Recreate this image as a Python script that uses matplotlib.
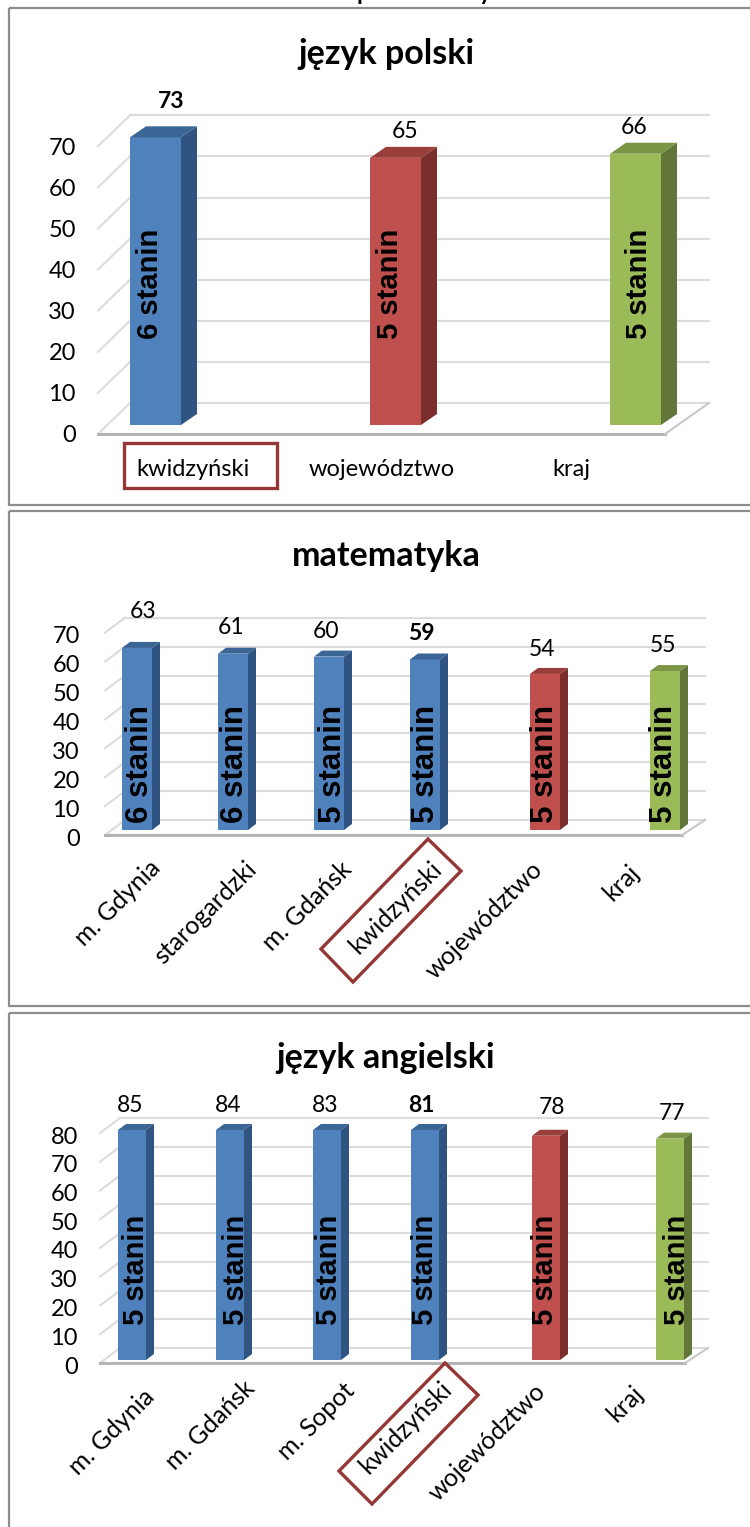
import numpy as np
import matplotlib
matplotlib.use("Agg")
import matplotlib.pyplot as plt
from matplotlib.patches import Polygon, Rectangle

plt.rcParams['font.family'] = ['Lato', 'DejaVu Sans']

# chart values
titles = ["język polski", "matematyka", "język angielski"]

cats1 = ["kwidzyński", "województwo", "kraj"]
vals1 = [73, 65, 66]
stanin1 = ["6 stanin", "5 stanin", "5 stanin"]

cats2 = ["m. Gdynia", "starogardzki", "m. Gdańsk", "kwidzyński", "województwo", "kraj"]
vals2 = [63, 61, 60, 59, 54, 55]
stanin2 = ["6 stanin", "6 stanin", "5 stanin", "5 stanin", "5 stanin", "5 stanin"]

cats3 = ["m. Gdynia", "m. Gdańsk", "m. Sopot", "kwidzyński", "województwo", "kraj"]
vals3 = [85, 84, 83, 81, 78, 77]
stanin3 = ["5 stanin", "5 stanin", "5 stanin", "5 stanin", "5 stanin", "5 stanin"]

# colours: front, side, top
BLUE = ("#4F81BD", "#2F5482", "#3A6595")
RED = ("#C0504D", "#7A2F2D", "#9A3E3B")
GREEN = ("#9BBB59", "#62763A", "#7C9646")

# layout in pixels for each panel
panels = [
    dict(title=titles[0], title_y=54, cats=cats1, vals=vals1, stanin=stanin1, ymax=70,
         base=425, scale=4.11, bar_x=[155.5, 395.5, 635.5], bar_w=51, dx=16, dy=11,
         front=(98, 665, 434), back=(130, 709, 403), tick_x=76, tick_off=11,
         colors=[BLUE, RED, GREEN], bold=0,
         val_xy=[(171, 102), (405, 132), (634, 127)],
         st_xy=[(150, 284), (390, 284), (639, 284)], st_size=21,
         cat_xy=[(193, 470), (382, 470), (571, 470)], cat_rot=0, cat_size=17),
    dict(title=titles[1], title_y=556, cats=cats2, vals=vals2, stanin=stanin2, ymax=70,
         base=830, scale=2.89, bar_x=[137, 233, 329, 425, 545, 665], bar_w=30, dx=8, dy=6,
         front=(105, 682, 835), back=(125, 705, 820), tick_x=80, tick_off=9,
         colors=[BLUE] * 4 + [RED, GREEN], bold=3,
         val_xy=[(143, 612), (231, 628), (326, 632), (421, 633), (542, 649), (663, 646)],
         st_xy=[(140, 764), (235, 764), (333, 764), (426, 764), (545, 764), (664, 764)], st_size=22.5,
         cat_xy=[(118, 903), (205, 913), (307, 906), (395, 908), (484, 920), (621, 883)], cat_rot=45, cat_size=18),
    dict(title=titles[2], title_y=1058, cats=cats3, vals=vals3, stanin=stanin3, ymax=80,
         base=1360, scale=2.875, bar_x=[132, 230, 327, 425, 546, 670], bar_w=28, dx=8, dy=6,
         front=(100, 685, 1363), back=(120, 708, 1348), tick_x=78, tick_off=7,
         colors=[BLUE] * 4 + [RED, GREEN], bold=3,
         val_xy=[(130, 1105), (228, 1105), (325, 1105), (421, 1105), (552, 1108), (672, 1114)],
         st_xy=[(136, 1270), (236, 1270), (329, 1270), (425, 1270), (545, 1270), (677, 1270)], st_size=21,
         cat_xy=[(112, 1432), (210, 1425), (316, 1421), (405, 1428), (487, 1442), (625, 1404)], cat_rot=45, cat_size=18),
]

W, H = 750, 1527
fig = plt.figure(figsize=(W / 100, H / 100), dpi=100, facecolor="white")

# pixel overlay for frames, text and the red boxes
pg = fig.add_axes([0, 0, 1, 1], zorder=5)
pg.set_xlim(0, W)
pg.set_ylim(H, 0)
pg.axis("off")
pg.patch.set_alpha(0)

# line of text above the charts, cut off by the top edge of the page
pg.text(357, 0.5, "podstawowy", ha="left", va="baseline", fontsize=17, fontweight="bold", color="black", clip_on=False)

# frames
for y0, y1 in [(8, 505), (511, 1006), (1013, 1560)]:
    pg.add_patch(Rectangle((9, y0), 800, y1 - y0, fill=False, ec="#8c8c8c", lw=1.6))

# red boxes round the kwidzyński labels
box_color = "#953735"
pg.add_patch(Rectangle((123.5, 442.5), 153, 45, fill=False, ec=box_color, lw=2.4))
pg.add_patch(Polygon([(428, 839), (461, 871), (353, 982), (321, 949)], fill=False, ec=box_color, lw=2.4))
pg.add_patch(Polygon([(445, 1363), (478, 1395), (372, 1504), (339, 1471)], fill=False, ec=box_color, lw=2.4))

for p in panels:
    base, scale, ymax = p["base"], p["scale"], p["ymax"]
    top_px = base - ymax * scale
    ax = fig.add_axes([0, 1 - base / H, 1, (base - top_px) / H], zorder=2)
    ax.set_xlim(0, W)
    ax.set_ylim(0, ymax)
    ax.axis("off")

    fl, fr, fy = p["front"]
    bl, br, by = p["back"]
    front_off = (base - fy) / scale
    back_off = (base - by) / scale
    ticks = np.arange(0, ymax + 1, 10)

    # walls and floor
    grid_color = "#dcdcdc"
    for t in ticks:
        ax.plot([bl, br], [t + back_off, t + back_off], color=grid_color, lw=1.5, clip_on=False, zorder=1)
        ax.plot([fl, bl], [t + front_off, t + back_off], color=grid_color, lw=1.5, clip_on=False, zorder=1)
    ax.plot([fl, fr], [front_off, front_off], color="#b5b5b5", lw=2.2, clip_on=False, zorder=1)
    ax.plot([fr, br], [front_off, back_off], color="#c8c8c8", lw=1.5, clip_on=False, zorder=1)

    # bars, cut off at the top of the axis like the original
    heights = np.minimum(p["vals"], ymax)
    w = p["bar_w"]
    dx = p["dx"]
    dv = p["dy"] / scale
    for x, h, c in zip(p["bar_x"], heights, p["colors"]):
        ax.bar(x, h, width=w, color=c[0], clip_on=False, zorder=3)
        r = x + w / 2
        l = x - w / 2
        ax.add_patch(Polygon([(r, 0), (r + dx, dv), (r + dx, h + dv), (r, h)], fc=c[1], ec="none", clip_on=False, zorder=3))
        ax.add_patch(Polygon([(l, h), (l + dx, h + dv), (r + dx, h + dv), (r, h)], fc=c[2], ec="none", clip_on=False, zorder=3))

    # y tick labels
    for t in ticks:
        pg.text(p["tick_x"], base + p["tick_off"] - t * scale, str(t), ha="right", va="center", fontsize=17, color="black")

    pg.text(386, p["title_y"], p["title"], ha="center", va="center", fontsize=24.5, fontweight="bold", color="black")

    for i, (v, xy) in enumerate(zip(p["vals"], p["val_xy"])):
        pg.text(xy[0], xy[1], str(v), ha="center", va="center", fontsize=16.5,
                fontweight="bold" if i == p["bold"] else "normal", color="black")

    for s, xy in zip(p["stanin"], p["st_xy"]):
        pg.text(xy[0], xy[1], s, rotation=90, ha="center", va="center", fontsize=p["st_size"],
                fontweight="bold", family=["Liberation Sans"], color="black")

    for c, xy in zip(p["cats"], p["cat_xy"]):
        pg.text(xy[0], xy[1], c, rotation=p["cat_rot"], ha="center", va="center", fontsize=p["cat_size"], color="black")

fig.savefig("out.png", dpi=100)
